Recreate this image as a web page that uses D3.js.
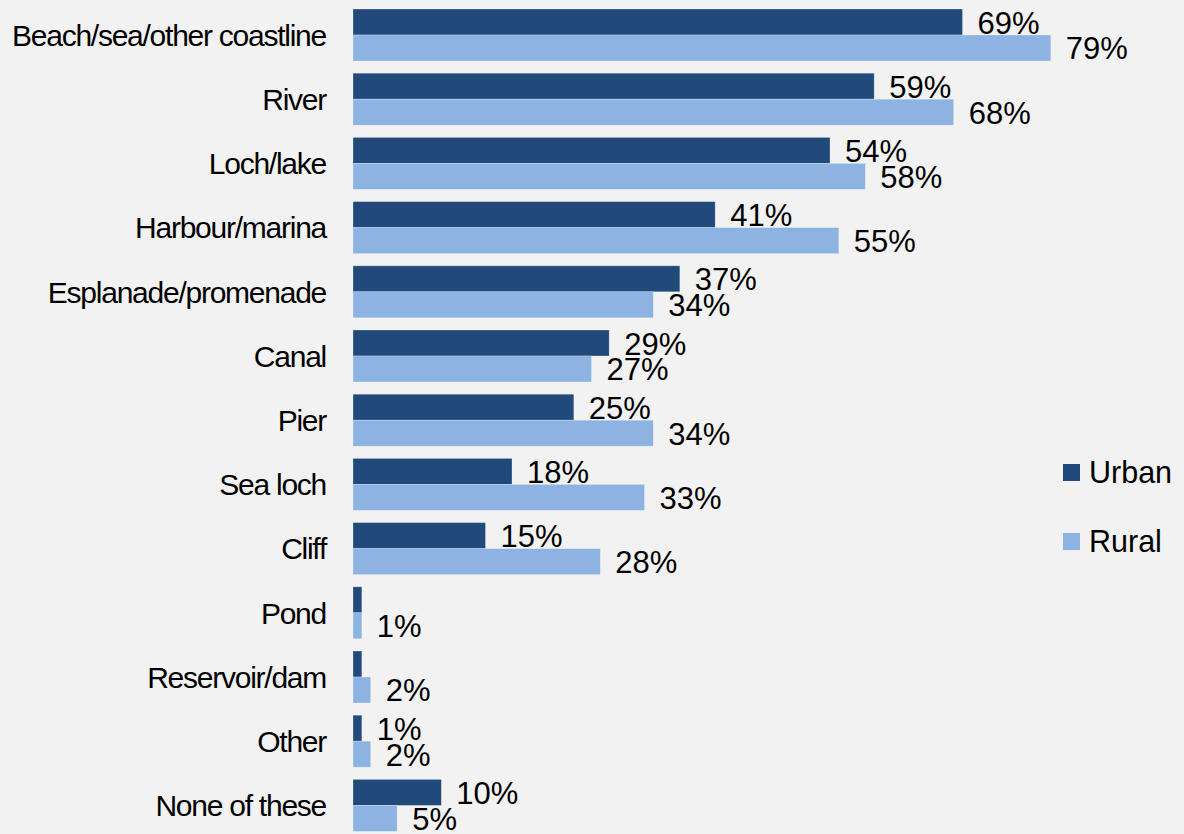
<!DOCTYPE html>
<html>
<head>
<meta charset="utf-8">
<script src="https://cdn.jsdelivr.net/npm/d3@7"></script>
<style>
  html, body { margin: 0; padding: 0; background: #f2f2f2; }
  svg { display: block; font-family: "Liberation Sans", Arial, sans-serif; }
</style>
</head>
<body>
<svg id="chart" width="1184" height="834"></svg>
<script>
// Places visited, by area type (share of respondents)
const categories = [
  "Beach/sea/other coastline", "River", "Loch/lake", "Harbour/marina",
  "Esplanade/promenade", "Canal", "Pier", "Sea loch", "Cliff",
  "Pond", "Reservoir/dam", "Other", "None of these"
];
const seriesNames = ["Urban", "Rural"];
const urban = [0.69, 0.59, 0.54, 0.41, 0.37, 0.29, 0.25, 0.18, 0.15, 0.01, 0.01, 0.01, 0.10];
const rural = [0.79, 0.68, 0.58, 0.55, 0.34, 0.27, 0.34, 0.33, 0.28, 0.01, 0.02, 0.02, 0.05];
// Labels shown next to each bar (none printed for the smallest urban bars)
const urbanLabels = ["69%", "59%", "54%", "41%", "37%", "29%", "25%", "18%", "15%", null, null, "1%", "10%"];
const ruralLabels = ["79%", "68%", "58%", "55%", "34%", "27%", "34%", "33%", "28%", "1%", "2%", "2%", "5%"];
const colors = ["#214a7b", "#8db3e2"];

const svg = d3.select("#chart");

const x = d3.scaleLinear().domain([0, 0.9]).range([353, 1148]);
const y = d3.scaleBand().domain(categories).range([-3.2, 843.6]).padding(0.19);
const ySub = d3.scaleBand().domain(seriesNames).range([0, y.bandwidth()]);

const rows = categories.map((c, i) => ({
  cat: c,
  vals: [
    { s: "Urban", v: urban[i], label: urbanLabels[i] },
    { s: "Rural", v: rural[i], label: ruralLabels[i] }
  ]
}));

const g = svg.append("g");
const row = g.selectAll("g.row").data(rows).join("g")
  .attr("class", "row")
  .attr("transform", d => `translate(0,${y(d.cat)})`);

row.selectAll("rect").data(d => d.vals).join("rect")
  .attr("x", x(0))
  .attr("y", d => ySub(d.s))
  .attr("width", d => x(d.v) - x(0))
  .attr("height", ySub.bandwidth())
  .attr("fill", (d, i) => colors[i])
  .attr("stroke", "rgba(255,255,255,0.35)")
  .attr("stroke-width", 0.75);

row.selectAll("text.val").data(d => d.vals.filter(v => v.label)).join("text")
  .attr("class", "val")
  .attr("x", d => x(d.v) + 15)
  .attr("y", d => ySub(d.s) + ySub.bandwidth() - 1.5)
  .attr("font-size", 31)
  .attr("fill", "#000")
  .text(d => d.label);

// Category axis labels
const yAxis = d3.axisLeft(y).tickSize(0).tickPadding(0);
const ax = svg.append("g").attr("transform", "translate(326,0)").call(yAxis);
ax.select(".domain").remove();
ax.selectAll("text")
  .attr("font-size", 30)
  .attr("letter-spacing", "-1.25px")
  .attr("fill", "#000")
  .attr("font-family", "'Liberation Sans', Arial, sans-serif")
  .attr("dy", "0.36em");

// Legend
const legend = svg.append("g").attr("transform", "translate(1063,464)");
const li = legend.selectAll("g").data(seriesNames).join("g")
  .attr("transform", (d, i) => `translate(0,${i * 69})`);
li.append("rect").attr("width", 17).attr("height", 17)
  .attr("fill", (d, i) => colors[i]);
li.append("text").attr("x", 26).attr("y", 18.5)
  .attr("font-size", 30.5)
  .attr("fill", "#000")
  .text(d => d);
</script>
</body>
</html>
